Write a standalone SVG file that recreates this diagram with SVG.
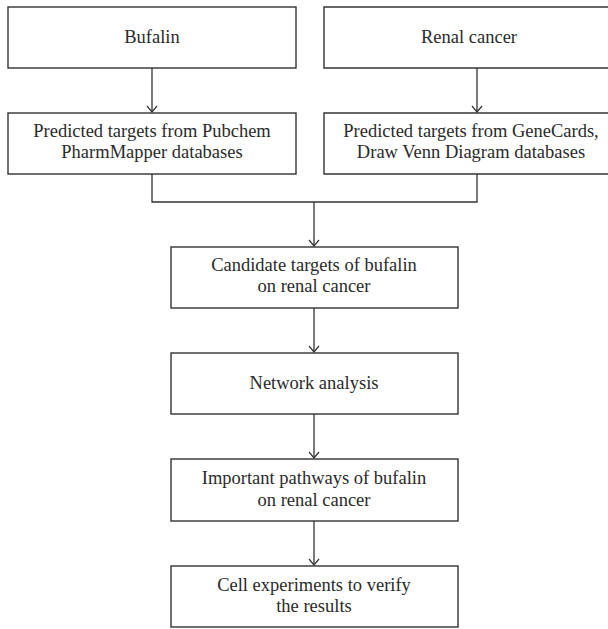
<svg xmlns="http://www.w3.org/2000/svg" width="608" height="629" viewBox="0 0 608 629">
<defs>
<style>
.box{fill:#fff;stroke:#333;stroke-width:1.4}
.t{font-family:"Liberation Serif","Times New Roman",serif;font-size:18.5px;fill:#2a2a2a;text-anchor:middle}
.c{fill:none;stroke:#333;stroke-width:1.3}
.ah{fill:none;stroke:#333;stroke-width:1.2}
</style>
</defs>
<rect width="608" height="629" fill="#fff"/>
<g id="connectors">
<path class="c" d="M152 68V112"/>
<path class="ah" d="M147 106L152 112L157 106"/>
<path class="c" d="M477 68V112"/>
<path class="ah" d="M472 106L477 112L482 106"/>
<path class="c" d="M152 174V202H477V174"/>
<path class="c" d="M314 202V246"/>
<path class="ah" d="M309 240L314 246L319 240"/>
<path class="c" d="M314 308V352"/>
<path class="ah" d="M309 346L314 352L319 346"/>
<path class="c" d="M314 414V458"/>
<path class="ah" d="M309 452L314 458L319 452"/>
<path class="c" d="M314 521V565"/>
<path class="ah" d="M309 559L314 565L319 559"/>
</g>
<g id="bufalin">
<rect class="box" x="8" y="7" width="288" height="61"/>
<text class="t" x="152" y="43">Bufalin</text>
</g>
<g id="renal-cancer">
<path class="box" d="M609 7H324V68H609"/>
<text class="t" x="469" y="43">Renal cancer</text>
</g>
<g id="predicted-left">
<rect class="box" x="8" y="113" width="288" height="61"/>
<text class="t" x="152" y="137">Predicted targets from Pubchem</text>
<text class="t" x="152" y="158">PharmMapper databases</text>
</g>
<g id="predicted-right">
<path class="box" d="M609 113H324V174H609"/>
<text class="t" x="471" y="137">Predicted targets from GeneCards,</text>
<text class="t" x="471" y="158">Draw Venn Diagram databases</text>
</g>
<g id="candidate">
<rect class="box" x="171" y="247" width="287" height="61"/>
<text class="t" x="314" y="271">Candidate targets of bufalin</text>
<text class="t" x="314" y="292">on renal cancer</text>
</g>
<g id="network">
<rect class="box" x="171" y="353" width="287" height="61"/>
<text class="t" x="314" y="389">Network analysis</text>
</g>
<g id="pathways">
<rect class="box" x="171" y="459" width="287" height="62"/>
<text class="t" x="314" y="484">Important pathways of bufalin</text>
<text class="t" x="314" y="506">on renal cancer</text>
</g>
<g id="cell">
<rect class="box" x="171" y="566" width="287" height="61"/>
<text class="t" x="314" y="591">Cell experiments to verify</text>
<text class="t" x="314" y="612">the results</text>
</g>
</svg>
